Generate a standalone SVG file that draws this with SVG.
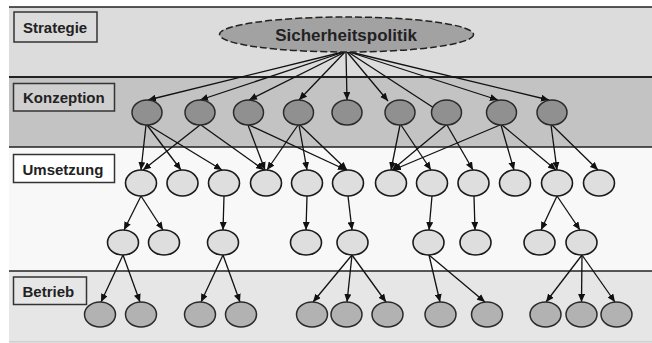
<svg xmlns="http://www.w3.org/2000/svg" width="652" height="343" viewBox="0 0 652 343">
  <defs>
    <marker id="arrow" markerUnits="userSpaceOnUse" markerWidth="8" markerHeight="7" refX="8" refY="3.5" orient="auto">
      <path d="M0,0 L8,3.5 L0,7 z" fill="#111"/>
    </marker>
  </defs>
  <style>
    .band-line { stroke: #222; stroke-width: 1.6; }
    .label rect { stroke: #333; stroke-width: 1.5; }
    .label text { font-family: "Liberation Sans", Arial, sans-serif; font-weight: bold; font-size: 15px; fill: #222; }
    .edge { stroke: #111; stroke-width: 1.3; fill: none; marker-end: url(#arrow); }
    .plain { stroke: #111; stroke-width: 1.3; fill: none; }
    .k ellipse { fill: #909090; stroke: #2a2a2a; stroke-width: 1.5; }
    .u ellipse { fill: #dedede; stroke: #1a1a1a; stroke-width: 1.6; }
    .b ellipse { fill: #b2b2b2; stroke: #2a2a2a; stroke-width: 1.5; }
  </style>

  <rect x="0" y="0" width="652" height="343" fill="#ffffff"/>

  <!-- layer bands -->
  <g id="bands">
    <rect x="9" y="7" width="643" height="70" fill="#dcdcdc"/>
    <rect x="9" y="77" width="643" height="70" fill="#c3c3c3"/>
    <rect x="9" y="147" width="643" height="124" fill="#f8f8f8"/>
    <rect x="9" y="271" width="643" height="71" fill="#e6e6e6"/>
    <line class="band-line" x1="9" y1="7" x2="652" y2="7"/>
    <line class="band-line" x1="9" y1="77" x2="652" y2="77" style="stroke-width:2"/>
    <line class="band-line" x1="9" y1="147" x2="652" y2="147"/>
    <line class="band-line" x1="9" y1="271" x2="652" y2="271"/>
    <line x1="9" y1="342" x2="652" y2="342" stroke="#bbb" stroke-width="1"/>
  </g>

  <!-- layer labels -->
  <g id="label-strategie" class="label">
    <rect x="14" y="12" width="83" height="30" fill="#dcdcdc"/>
    <text x="23" y="33">Strategie</text>
  </g>
  <g id="label-konzeption" class="label">
    <rect x="13.5" y="83.5" width="101" height="27.5" fill="#cfcfcf"/>
    <text x="23" y="103">Konzeption</text>
  </g>
  <g id="label-umsetzung" class="label">
    <rect x="13.5" y="154.5" width="101" height="28" fill="#ffffff"/>
    <text x="22.5" y="175">Umsetzung</text>
  </g>
  <g id="label-betrieb" class="label">
    <rect x="13.5" y="277" width="73" height="27.5" fill="#e6e6e6"/>
    <text x="22.5" y="297">Betrieb</text>
  </g>

  <!-- connectors -->
  <g id="connectors">
    <!-- policy to concepts -->
    <line class="edge" x1="343" y1="52" x2="148" y2="100"/>
    <line class="edge" x1="344" y1="52" x2="200" y2="100"/>
    <line class="edge" x1="345" y1="52" x2="249" y2="100"/>
    <line class="edge" x1="345" y1="52" x2="299" y2="100"/>
    <line class="edge" x1="346" y1="52" x2="347" y2="100"/>
    <line class="edge" x1="347" y1="52" x2="388" y2="101"/>
    <line class="plain" x1="348" y1="52" x2="434" y2="108"/>
    <line class="edge" x1="349" y1="52" x2="498" y2="100"/>
    <line class="edge" x1="350" y1="52" x2="549" y2="100"/>

    <!-- concepts to measures -->
    <line class="edge" x1="146" y1="125" x2="141" y2="170"/>
    <line class="edge" x1="147" y1="125" x2="181" y2="170"/>
    <line class="edge" x1="148" y1="125" x2="222" y2="170"/>
    <line class="edge" x1="200" y1="125" x2="143" y2="170"/>
    <line class="edge" x1="201" y1="125" x2="264" y2="170"/>
    <line class="edge" x1="248" y1="125" x2="265" y2="170"/>
    <line class="edge" x1="249" y1="125" x2="346" y2="170"/>
    <line class="edge" x1="298" y1="125" x2="267" y2="170"/>
    <line class="edge" x1="299" y1="125" x2="307" y2="170"/>
    <line class="edge" x1="300" y1="125" x2="347" y2="170"/>
    <line class="edge" x1="400" y1="125" x2="391" y2="170"/>
    <line class="edge" x1="401" y1="125" x2="431" y2="170"/>
    <line class="edge" x1="446" y1="125" x2="392" y2="170"/>
    <line class="edge" x1="447" y1="125" x2="473" y2="170"/>
    <line class="edge" x1="500" y1="125" x2="393" y2="170"/>
    <line class="edge" x1="501" y1="125" x2="514" y2="170"/>
    <line class="edge" x1="502" y1="125" x2="556" y2="170"/>
    <line class="edge" x1="551" y1="125" x2="557" y2="170"/>
    <line class="edge" x1="552" y1="125" x2="598" y2="170"/>

    <!-- measures to sub-measures -->
    <line class="edge" x1="141" y1="196" x2="124" y2="230"/>
    <line class="edge" x1="141" y1="196" x2="163" y2="230"/>
    <line class="edge" x1="224" y1="196" x2="223" y2="230"/>
    <line class="edge" x1="307" y1="196" x2="306" y2="230"/>
    <line class="edge" x1="348" y1="196" x2="352" y2="230"/>
    <line class="edge" x1="432" y1="196" x2="429" y2="230"/>
    <line class="edge" x1="474" y1="196" x2="475" y2="230"/>
    <line class="edge" x1="557" y1="196" x2="541" y2="230"/>
    <line class="edge" x1="557" y1="196" x2="580" y2="230"/>

    <!-- sub-measures to operation -->
    <line class="edge" x1="123" y1="255" x2="101" y2="302"/>
    <line class="edge" x1="123" y1="255" x2="140" y2="302"/>
    <line class="edge" x1="223" y1="255" x2="201" y2="302"/>
    <line class="edge" x1="223" y1="255" x2="240" y2="302"/>
    <line class="edge" x1="352" y1="255" x2="313" y2="302"/>
    <line class="edge" x1="352" y1="255" x2="347" y2="302"/>
    <line class="edge" x1="352" y1="255" x2="386" y2="302"/>
    <line class="edge" x1="429" y1="255" x2="440" y2="302"/>
    <line class="edge" x1="429" y1="255" x2="485" y2="302"/>
    <line class="edge" x1="582" y1="255" x2="546" y2="302"/>
    <line class="edge" x1="582" y1="255" x2="581.5" y2="302"/>
    <line class="edge" x1="582" y1="255" x2="615" y2="302"/>
  </g>

  <!-- policy node -->
  <g id="sicherheitspolitik">
    <ellipse cx="346.5" cy="34.5" rx="127" ry="17.5" fill="#a2a2a2" stroke="#222" stroke-width="1.5" stroke-dasharray="7,3"/>
    <text x="346" y="41" text-anchor="middle" font-family="Liberation Sans, Arial, sans-serif" font-weight="bold" font-size="17" fill="#222">Sicherheitspolitik</text>
  </g>

  <!-- concept nodes -->
  <g id="k1" class="k"><ellipse cx="147" cy="112.5" rx="15" ry="12.5"/></g>
  <g id="k2" class="k"><ellipse cx="200" cy="112.5" rx="15" ry="12.5"/></g>
  <g id="k3" class="k"><ellipse cx="248.5" cy="112.5" rx="15" ry="12.5"/></g>
  <g id="k4" class="k"><ellipse cx="298.5" cy="112.5" rx="15" ry="12.5"/></g>
  <g id="k5" class="k"><ellipse cx="347" cy="112.5" rx="15" ry="12.5"/></g>
  <g id="k6" class="k"><ellipse cx="400" cy="112.5" rx="15" ry="12.5"/></g>
  <g id="k7" class="k"><ellipse cx="446.5" cy="112.5" rx="15" ry="12.5"/></g>
  <g id="k8" class="k"><ellipse cx="501.5" cy="112.5" rx="15" ry="12.5"/></g>
  <g id="k9" class="k"><ellipse cx="552" cy="112.5" rx="15" ry="12.5"/></g>

  <!-- measure nodes, first row -->
  <g id="u1" class="u"><ellipse cx="141" cy="183" rx="15.5" ry="13"/></g>
  <g id="u2" class="u"><ellipse cx="182.5" cy="183" rx="15.5" ry="13"/></g>
  <g id="u3" class="u"><ellipse cx="224" cy="183" rx="15.5" ry="13"/></g>
  <g id="u4" class="u"><ellipse cx="266" cy="183" rx="15.5" ry="13"/></g>
  <g id="u5" class="u"><ellipse cx="307" cy="183" rx="15.5" ry="13"/></g>
  <g id="u6" class="u"><ellipse cx="348" cy="183" rx="15.5" ry="13"/></g>
  <g id="u7" class="u"><ellipse cx="391" cy="183" rx="15.5" ry="13"/></g>
  <g id="u8" class="u"><ellipse cx="432" cy="183" rx="15.5" ry="13"/></g>
  <g id="u9" class="u"><ellipse cx="473.5" cy="183" rx="15.5" ry="13"/></g>
  <g id="u10" class="u"><ellipse cx="515" cy="183" rx="15.5" ry="13"/></g>
  <g id="u11" class="u"><ellipse cx="557" cy="183" rx="15.5" ry="13"/></g>
  <g id="u12" class="u"><ellipse cx="599" cy="183" rx="15.5" ry="13"/></g>

  <!-- measure nodes, second row -->
  <g id="r1" class="u"><ellipse cx="123" cy="242.5" rx="15.5" ry="12.5"/></g>
  <g id="r2" class="u"><ellipse cx="164" cy="242.5" rx="15.5" ry="12.5"/></g>
  <g id="r3" class="u"><ellipse cx="223" cy="242.5" rx="15.5" ry="12.5"/></g>
  <g id="r4" class="u"><ellipse cx="306" cy="242.5" rx="15.5" ry="12.5"/></g>
  <g id="r5" class="u"><ellipse cx="352.5" cy="242.5" rx="15.5" ry="12.5"/></g>
  <g id="r6" class="u"><ellipse cx="428.5" cy="242.5" rx="15.5" ry="12.5"/></g>
  <g id="r7" class="u"><ellipse cx="475.5" cy="242.5" rx="15.5" ry="12.5"/></g>
  <g id="r8" class="u"><ellipse cx="539.5" cy="242.5" rx="15.5" ry="12.5"/></g>
  <g id="r9" class="u"><ellipse cx="581.5" cy="242.5" rx="15.5" ry="12.5"/></g>

  <!-- operation nodes -->
  <g id="b1" class="b"><ellipse cx="100" cy="314.5" rx="15.5" ry="12.5"/></g>
  <g id="b2" class="b"><ellipse cx="141" cy="314.5" rx="15.5" ry="12.5"/></g>
  <g id="b3" class="b"><ellipse cx="200" cy="314.5" rx="15.5" ry="12.5"/></g>
  <g id="b4" class="b"><ellipse cx="241" cy="314.5" rx="15.5" ry="12.5"/></g>
  <g id="b5" class="b"><ellipse cx="312" cy="314.5" rx="15.5" ry="12.5"/></g>
  <g id="b6" class="b"><ellipse cx="346.5" cy="314.5" rx="15.5" ry="12.5"/></g>
  <g id="b7" class="b"><ellipse cx="387.5" cy="314.5" rx="15.5" ry="12.5"/></g>
  <g id="b8" class="b"><ellipse cx="440.5" cy="314.5" rx="15.5" ry="12.5"/></g>
  <g id="b9" class="b"><ellipse cx="487" cy="314.5" rx="15.5" ry="12.5"/></g>
  <g id="b10" class="b"><ellipse cx="545.5" cy="314.5" rx="15.5" ry="12.5"/></g>
  <g id="b11" class="b"><ellipse cx="581.5" cy="314.5" rx="15.5" ry="12.5"/></g>
  <g id="b12" class="b"><ellipse cx="616.5" cy="314.5" rx="15.5" ry="12.5"/></g>
</svg>
